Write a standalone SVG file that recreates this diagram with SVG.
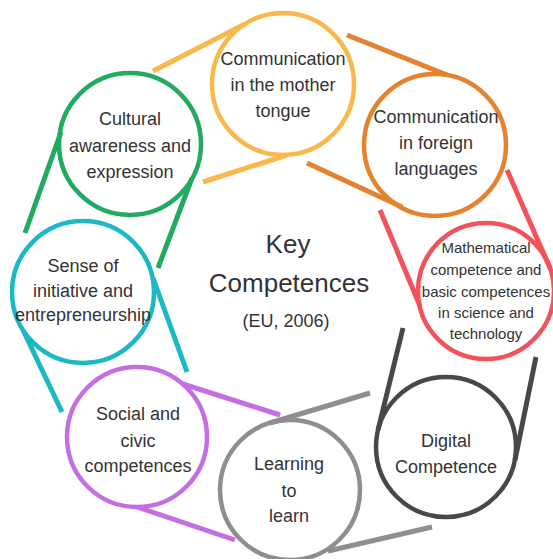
<svg xmlns="http://www.w3.org/2000/svg" width="553" height="559" viewBox="0 0 553 559">
<style>
.ring{fill:none;stroke-width:4.5}
.tail{stroke-width:5;stroke-linecap:butt}
.lbl{font-family:"Liberation Sans",Arial,sans-serif;font-size:18px;fill:#333;text-anchor:middle}
.sm{font-size:15px}
.big{font-size:26px}
</style>
<rect width="553" height="559" fill="#fff"/>
<g id="connectors">
<line class="tail" x1="153" y1="71" x2="245" y2="24" stroke="#F8B84C"/>
<line class="tail" x1="203" y1="182" x2="287" y2="155" stroke="#F8B84C"/>
<line class="tail" x1="347" y1="35" x2="447" y2="75" stroke="#E3822F"/>
<line class="tail" x1="307" y1="163" x2="402" y2="207" stroke="#E3822F"/>
<line class="tail" x1="507" y1="170" x2="550" y2="268" stroke="#F4525A"/>
<line class="tail" x1="380" y1="210" x2="420" y2="306" stroke="#F4525A"/>
<line class="tail" x1="403" y1="328" x2="378" y2="430" stroke="#484848"/>
<line class="tail" x1="536" y1="357" x2="515" y2="460" stroke="#484848"/>
<line class="tail" x1="370" y1="393" x2="270" y2="423" stroke="#8E8E8E"/>
<line class="tail" x1="432" y1="527" x2="328" y2="551" stroke="#8E8E8E"/>
<line class="tail" x1="280" y1="415" x2="183" y2="384" stroke="#C56EE3"/>
<line class="tail" x1="235" y1="540" x2="137" y2="507" stroke="#C56EE3"/>
<line class="tail" x1="187" y1="372" x2="153" y2="278" stroke="#1CB9C4"/>
<line class="tail" x1="62" y1="412" x2="23" y2="330" stroke="#1CB9C4"/>
<line class="tail" x1="25" y1="233" x2="61" y2="132" stroke="#22AA60"/>
<line class="tail" x1="158" y1="268" x2="192" y2="178" stroke="#22AA60"/>
</g>
<g id="mother-tongue">
<circle class="ring" cx="283" cy="84" r="71" stroke="#F8B84C"/>
<text class="lbl" x="283" y="65">Communication</text>
<text class="lbl" x="283" y="91">in the mother</text>
<text class="lbl" x="283" y="117">tongue</text>
</g>
<g id="foreign-languages">
<circle class="ring" cx="435" cy="145" r="71" stroke="#E3822F"/>
<text class="lbl" x="436" y="123">Communication</text>
<text class="lbl" x="436" y="149">in foreign</text>
<text class="lbl" x="436" y="175">languages</text>
</g>
<g id="mathematical">
<circle class="ring" cx="486" cy="291" r="68" stroke="#F4525A"/>
<text class="lbl sm" x="486" y="253">Mathematical</text>
<text class="lbl sm" x="486" y="275">competence and</text>
<text class="lbl sm" x="486" y="297">basic competences</text>
<text class="lbl sm" x="486" y="318">in science and</text>
<text class="lbl sm" x="486" y="339">technology</text>
</g>
<g id="digital">
<circle class="ring" cx="446" cy="447" r="70" stroke="#484848"/>
<text class="lbl" x="446" y="447">Digital</text>
<text class="lbl" x="446" y="473">Competence</text>
</g>
<g id="learning">
<circle class="ring" cx="290" cy="490" r="70" stroke="#8E8E8E"/>
<text class="lbl" x="289" y="470">Learning</text>
<text class="lbl" x="289" y="497">to</text>
<text class="lbl" x="289" y="522">learn</text>
</g>
<g id="social">
<circle class="ring" cx="137" cy="437" r="70" stroke="#C56EE3"/>
<text class="lbl" x="138" y="420">Social and</text>
<text class="lbl" x="138" y="447">civic</text>
<text class="lbl" x="138" y="472">competences</text>
</g>
<g id="initiative">
<circle class="ring" cx="83" cy="292" r="71" stroke="#1CB9C4"/>
<text class="lbl" x="83" y="272">Sense of</text>
<text class="lbl" x="83" y="297">initiative and</text>
<text class="lbl" x="83" y="321">entrepreneurship</text>
</g>
<g id="cultural">
<circle class="ring" cx="130" cy="144" r="71" stroke="#22AA60"/>
<text class="lbl" x="130" y="125">Cultural</text>
<text class="lbl" x="130" y="152">awareness and</text>
<text class="lbl" x="130" y="178">expression</text>
</g>
<g id="center">
<text class="lbl big" x="288" y="253">Key</text>
<text class="lbl big" x="289" y="292">Competences</text>
<text class="lbl" x="286" y="327">(EU, 2006)</text>
</g>
</svg>
